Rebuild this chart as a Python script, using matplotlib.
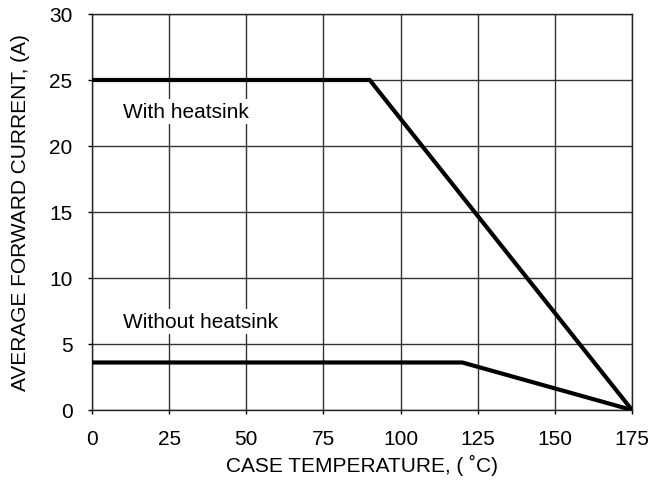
import matplotlib.pyplot as plt

plt.rcParams['font.family'] = ['Liberation Sans', 'DejaVu Sans']

# derating curves (case temperature in C, current in A)
temp_hs = [0, 90, 175]
curr_hs = [25, 25, 0]
temp_nohs = [0, 120, 175]
curr_nohs = [3.6, 3.6, 0]

xticks = [0, 25, 50, 75, 100, 125, 150, 175]
yticks = [0, 5, 10, 15, 20, 25, 30]

fig = plt.figure(figsize=(6.5, 4.85), dpi=100)
ax = fig.add_axes([92/650, 1 - 411/485, 540/650, 396/485])

ax.plot(temp_hs, curr_hs, color='black', lw=3, solid_joinstyle='miter', zorder=3)
ax.plot(temp_nohs, curr_nohs, color='black', lw=3, solid_joinstyle='miter', zorder=3)

ax.set_xlim(0, 175)
ax.set_ylim(0, 30)
ax.set_xticks(xticks)
ax.set_yticks(yticks)
ax.grid(True, color='#333333', lw=1)
ax.set_axisbelow(True)
for s in ax.spines.values():
    s.set_color('#222222')
    s.set_linewidth(1)
ax.tick_params(axis='both', labelsize=15, length=3, width=1, pad=11)

box = dict(facecolor='white', edgecolor='none', pad=2)
ax.text(10, 22.6, 'With heatsink', fontsize=15, va='center', ha='left', bbox=box, zorder=2)
ax.text(10, 6.7, 'Without heatsink', fontsize=15, va='center', ha='left', bbox=box, zorder=2)

ax.set_xlabel('CASE TEMPERATURE, ( \u02daC)', fontsize=15, labelpad=4)
ax.set_ylabel('AVERAGE FORWARD CURRENT, (A)', fontsize=15, labelpad=14)

fig.savefig('out.png', dpi=100)
plt.close('all')
